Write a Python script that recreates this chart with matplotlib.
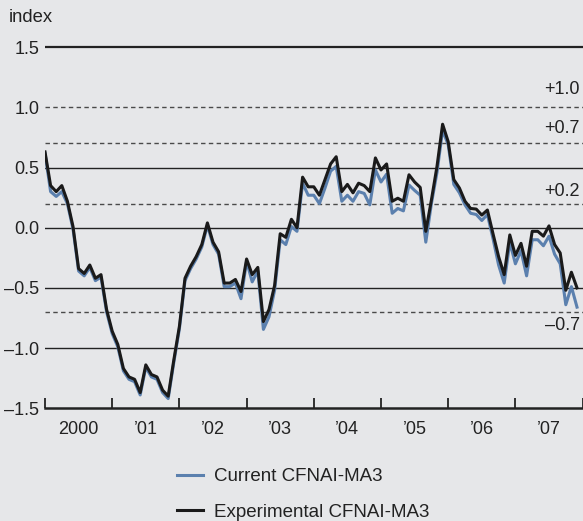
import numpy as np
import matplotlib
matplotlib.use("Agg")
import matplotlib.pyplot as plt

plt.rcParams['font.family'] = ['Liberation Sans', 'DejaVu Sans']

# monthly, Jan 2000 - Dec 2007
current = [0.62, 0.30, 0.26, 0.30, 0.20, -0.01, -0.36, -0.40, -0.33, -0.44, -0.41, -0.70,
           -0.88, -0.99, -1.19, -1.26, -1.28, -1.39, -1.16, -1.24, -1.26, -1.37, -1.42, -1.12,
           -0.84, -0.44, -0.34, -0.26, -0.16, 0.02, -0.14, -0.22, -0.49, -0.49, -0.46, -0.59,
           -0.28, -0.45, -0.36, -0.845, -0.74, -0.52, -0.10, -0.14, 0.01, -0.03, 0.37, 0.27,
           0.27, 0.20, 0.33, 0.47, 0.51, 0.22, 0.27, 0.22, 0.30, 0.285, 0.19, 0.48,
           0.38, 0.445, 0.12, 0.16, 0.14, 0.355, 0.31, 0.27, -0.12, 0.20, 0.46, 0.81,
           0.69, 0.36, 0.29, 0.19, 0.12, 0.11, 0.06, 0.11, -0.09, -0.31, -0.46, -0.12,
           -0.30, -0.19, -0.40, -0.10, -0.10, -0.15, -0.07, -0.22, -0.30, -0.64, -0.49, -0.66]
experimental = [0.63, 0.35, 0.30, 0.35, 0.22, 0.01, -0.34, -0.38, -0.31, -0.42, -0.39, -0.68,
                -0.86, -0.97, -1.17, -1.24, -1.26, -1.37, -1.14, -1.22, -1.24, -1.35, -1.40, -1.10,
                -0.82, -0.42, -0.32, -0.24, -0.14, 0.04, -0.12, -0.20, -0.46, -0.46, -0.43, -0.53,
                -0.26, -0.39, -0.33, -0.78, -0.68, -0.48, -0.05, -0.08, 0.07, 0.00, 0.42, 0.34,
                0.34, 0.27, 0.40, 0.53, 0.59, 0.30, 0.36, 0.29, 0.37, 0.35, 0.30, 0.58,
                0.48, 0.53, 0.22, 0.245, 0.22, 0.44, 0.38, 0.335, -0.03, 0.23, 0.51, 0.86,
                0.715, 0.40, 0.33, 0.22, 0.16, 0.155, 0.105, 0.147, -0.05, -0.24, -0.39, -0.06,
                -0.23, -0.13, -0.32, -0.03, -0.03, -0.07, 0.015, -0.14, -0.21, -0.52, -0.37, -0.50]
year_labels = ['2000', '\u201901', '\u201902', '\u201903', '\u201904', '\u201905', '\u201906', '\u201907']
y_ticks = [1.5, 1.0, 0.5, 0.0, -0.5, -1.0, -1.5]
y_ticklabels = ['1.5', '1.0', '0.5', '0.0', '\u20130.5', '\u20131.0', '\u20131.5']
solid_levels = [0.5, 0.0, -0.5, -1.0]
dashed_levels = [1.0, 0.7, 0.2, -0.7]
dashed_labels = ['+1.0', '+0.7', '+0.2', '\u20130.7']

bg = '#e6e7e9'
blue = '#5b80ae'

fig = plt.figure(figsize=(5.83, 5.21), dpi=100, facecolor=bg)
ax = fig.add_axes([45 / 583, 0.2165, 537.6 / 583, 0.7044])
ax.set_facecolor(bg)

x = np.arange(len(current))

# reference lines
ax.axhline(1.5, color='#222222', lw=1.6, zorder=1)
for lv in solid_levels:
    ax.axhline(lv, color='#222222', lw=1.0, zorder=1)
for lv in dashed_levels:
    ax.axhline(lv, color='#4a4a4a', lw=1.0, ls=(0, (3.2, 2.4)), zorder=1)

ax.plot(x, current, color=blue, lw=2.2, zorder=3)
ax.plot(x, experimental, color='#1a1a1a', lw=2.2, zorder=4)

# band labels
offsets = {'+1.0': 1.145, '+0.7': 0.826, '+0.2': 0.30, '\u20130.7': -0.81}
for lab in dashed_labels:
    ax.text(95.5, offsets[lab], lab, ha='right', va='center', fontsize=13, color='#222222')

ax.set_xlim(0, 96)
ax.set_ylim(-1.5, 1.55)

ax.set_xticks(np.arange(0, 97, 12))
ax.set_xticklabels([])
ax.set_xticks(np.arange(6, 96, 12), minor=True)
ax.set_xticklabels(year_labels, minor=True)
ax.tick_params(axis='x', which='major', direction='in', length=7, width=1.3, color='#222222')
ax.tick_params(axis='x', which='minor', length=0, pad=9, labelsize=13, labelcolor='#222222')

ax.set_yticks(y_ticks)
ax.set_yticklabels(y_ticklabels)
ax.tick_params(axis='y', length=0, pad=4, labelsize=13, labelcolor='#222222')

for side in ['top', 'right', 'left']:
    ax.spines[side].set_visible(False)
ax.spines['bottom'].set_linewidth(1.8)
ax.spines['bottom'].set_color('#222222')

fig.text(9 / 583, 1 - 17 / 521, 'index', fontsize=13.3, va='center', ha='left', color='#222222')

h1, = ax.plot([], [], color=blue, lw=2.2)
h2, = ax.plot([], [], color='#1a1a1a', lw=2.2)
fig.legend([h1, h2], ['Current CFNAI-MA3', 'Experimental CFNAI-MA3'],
           loc='upper left', bbox_to_anchor=(177 / 583, 1 - 468 / 521),
           frameon=False, fontsize=13.5, handlelength=1.4, handletextpad=0.55,
           labelspacing=1.0, borderpad=0, borderaxespad=0, labelcolor='#222222')

fig.savefig('out.png', dpi=100, facecolor=bg)
